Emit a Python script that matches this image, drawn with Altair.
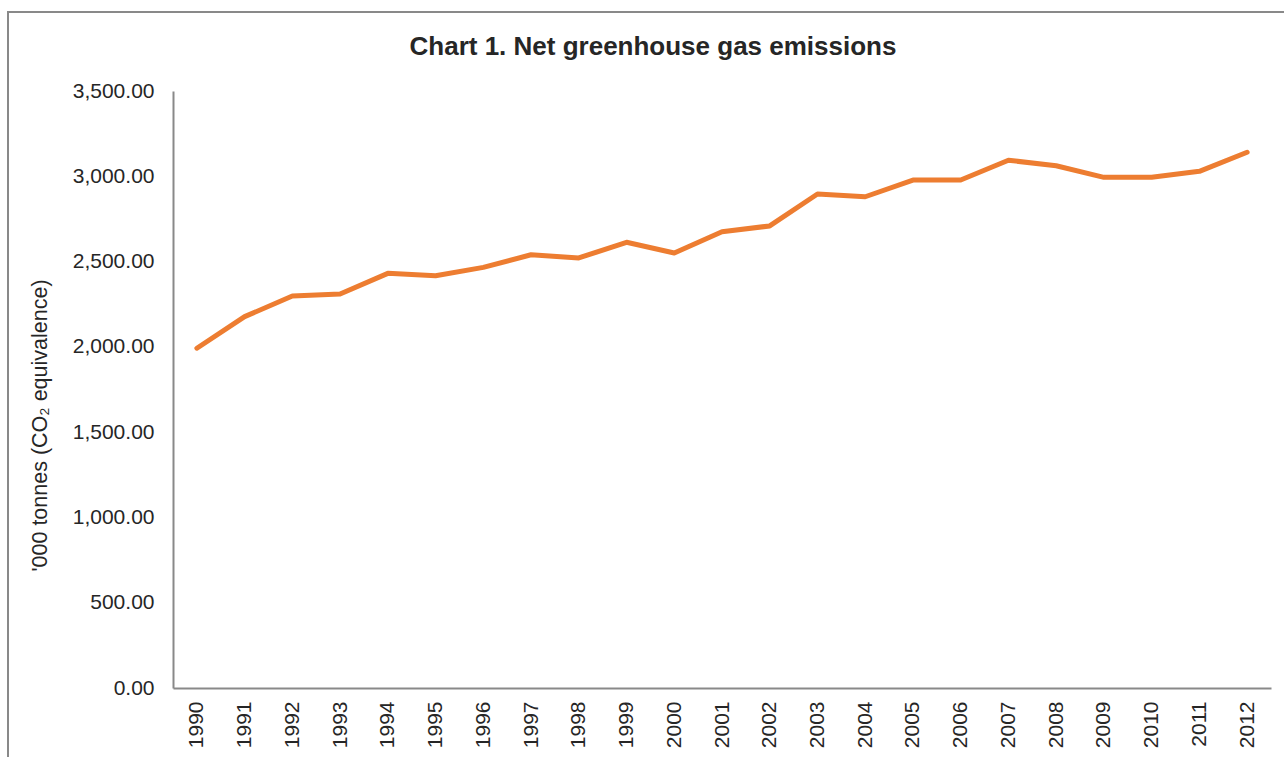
import altair as alt
import pandas as pd

years = [str(y) for y in range(1990, 2013)]
emissions = [1992, 2177, 2298, 2310, 2431, 2417, 2466, 2540, 2521, 2613, 2550,
             2675, 2709, 2896, 2880, 2978, 2978, 3094, 3062, 2994, 2994, 3029, 3141]
y_ticks = [0, 500, 1000, 1500, 2000, 2500, 3000, 3500]
title_text = "Chart 1. Net greenhouse gas emissions"

df = pd.DataFrame({"year": years, "value": emissions})

FONT = "Liberation Sans"
W, H = 1098, 597
LEFT, TOP = 173, 91

line = alt.Chart(df).mark_line(
    color="#ED7D31", strokeWidth=5, strokeCap="round", strokeJoin="round"
).encode(
    x=alt.X("year:O", sort=years,
            scale=alt.Scale(type="point", padding=0.5),
            axis=alt.Axis(title=None, labelAngle=270, labelFont=FONT, labelFontSize=21,
                          labelColor="#262626", labelPadding=13, ticks=False,
                          domainColor="#898989", domainWidth=2, grid=False)),
    y=alt.Y("value:Q",
            scale=alt.Scale(domain=[0, 3500], nice=False, zero=True),
            axis=alt.Axis(values=y_ticks, format=",.2f", title="'000 tonnes (CO₂ equivalence)",
                          titleFont=FONT, titleFontSize=21.5, titleFontWeight="normal",
                          titleColor="#262626", titleAngle=270, titleX=-127, titleY=334,
                          titleAlign="center", titleBaseline="alphabetic",
                          labelFont=FONT, labelFontSize=21, labelColor="#262626",
                          labelPadding=19, ticks=False, grid=False,
                          domainColor="#898989", domainWidth=2)),
)

border = alt.Chart(alt.Data(values=[{}])).mark_rect(
    fill=None, stroke="#898989", strokeWidth=2
).encode(
    x=alt.value(8 - LEFT), y=alt.value(12 - TOP),
    x2=alt.value(1284 - LEFT + 30), y2=alt.value(757 - TOP + 30),
)

title = alt.Chart(alt.Data(values=[{}])).mark_text(
    text=title_text, font=FONT, fontSize=26, fontWeight="bold", color="#262626",
    align="center", baseline="alphabetic"
).encode(
    x=alt.value(653 - LEFT), y=alt.value(55 - TOP),
)

chart = alt.layer(border, line, title).properties(
    width=W, height=H,
    background="white",
    autosize=alt.AutoSizeParams(type="none"),
    padding={"left": LEFT, "top": TOP, "right": 1284 - LEFT - W, "bottom": 757 - TOP - H},
).configure_view(stroke=None)

chart.save("out.html", embed_options={"renderer": "svg", "actions": False})
